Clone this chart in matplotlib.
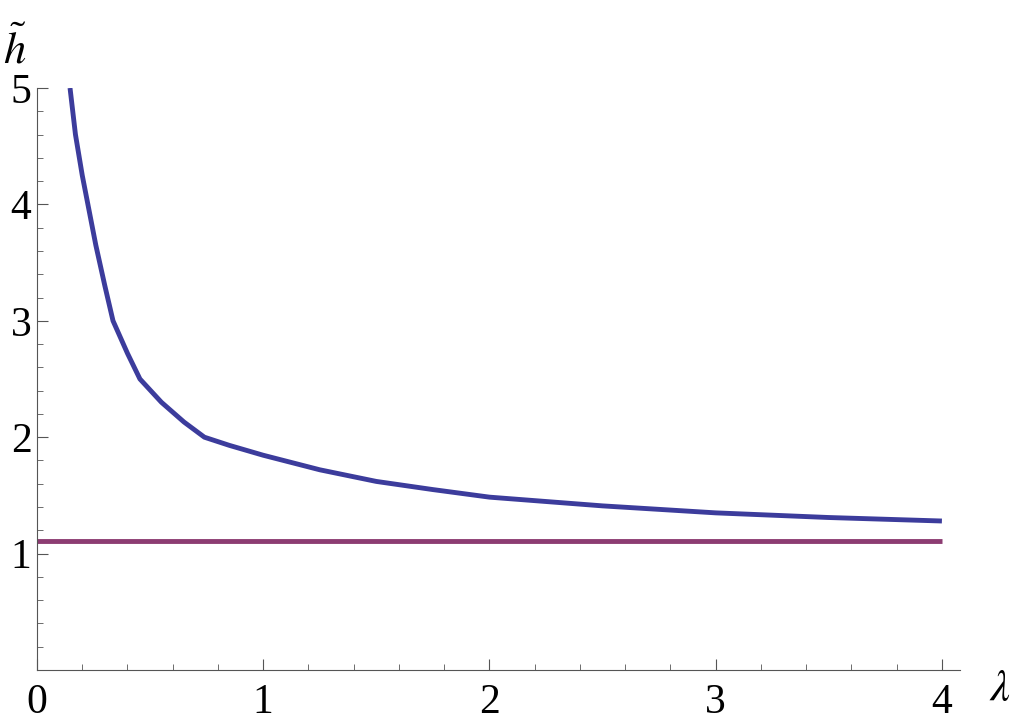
import matplotlib
matplotlib.use("Agg")
import matplotlib.pyplot as plt
from matplotlib.ticker import MultipleLocator

plt.rcParams['font.family'] = ['Liberation Serif', 'DejaVu Serif']
plt.rcParams['mathtext.fontset'] = 'stix'

lam = [0.146, 0.17, 0.2, 0.225, 0.26, 0.3, 0.336, 0.4, 0.455, 0.55, 0.65, 0.74, 0.85, 1.0, 1.25, 1.5, 1.75, 2.0, 2.5, 3.0, 3.5, 4.0]
h = [5.0, 4.6, 4.25, 4.0, 3.65, 3.3, 3.0, 2.72, 2.5, 2.3, 2.13, 2.0, 1.93, 1.845, 1.72, 1.62, 1.55, 1.485, 1.41, 1.35, 1.31, 1.28]
h_const = 1.107
xticks = [0, 1, 2, 3, 4]
yticks = [1, 2, 3, 4, 5]

fig = plt.figure(figsize=(10.24, 7.28), dpi=100)
ax = fig.add_axes([37/1024, 58/728, (960-37)/1024, (670-88)/728])
ax.plot(lam, h, color='#3c3c9c', lw=3.5, solid_capstyle='butt')
ax.plot([0, 4], [h_const, h_const], color='#8c3c72', lw=3.5, solid_capstyle='butt')
ax.set_xlim(0, 4.08)
ax.set_ylim(0, 5)
for s in ['top', 'right']:
    ax.spines[s].set_visible(False)
for s in ['left', 'bottom']:
    ax.spines[s].set_color('#555555')
ax.set_xticks(xticks)
ax.set_yticks(yticks)
ax.xaxis.set_minor_locator(MultipleLocator(0.2))
ax.yaxis.set_minor_locator(MultipleLocator(0.2))
ax.tick_params(which='major', direction='in', length=8, labelsize=30, color='#555555', pad=10)
ax.tick_params(which='minor', direction='in', length=4, color='#555555')
ax.tick_params(axis='y', pad=4)
fig.text(1000/1024, 1-690/728, r'$\lambda$', fontsize=32, ha='center', va='center')
fig.text(15/1024, 1-50/728, r'$\tilde{h}$', fontsize=32, ha='center', va='center')
fig.savefig('out.png', dpi=100)
